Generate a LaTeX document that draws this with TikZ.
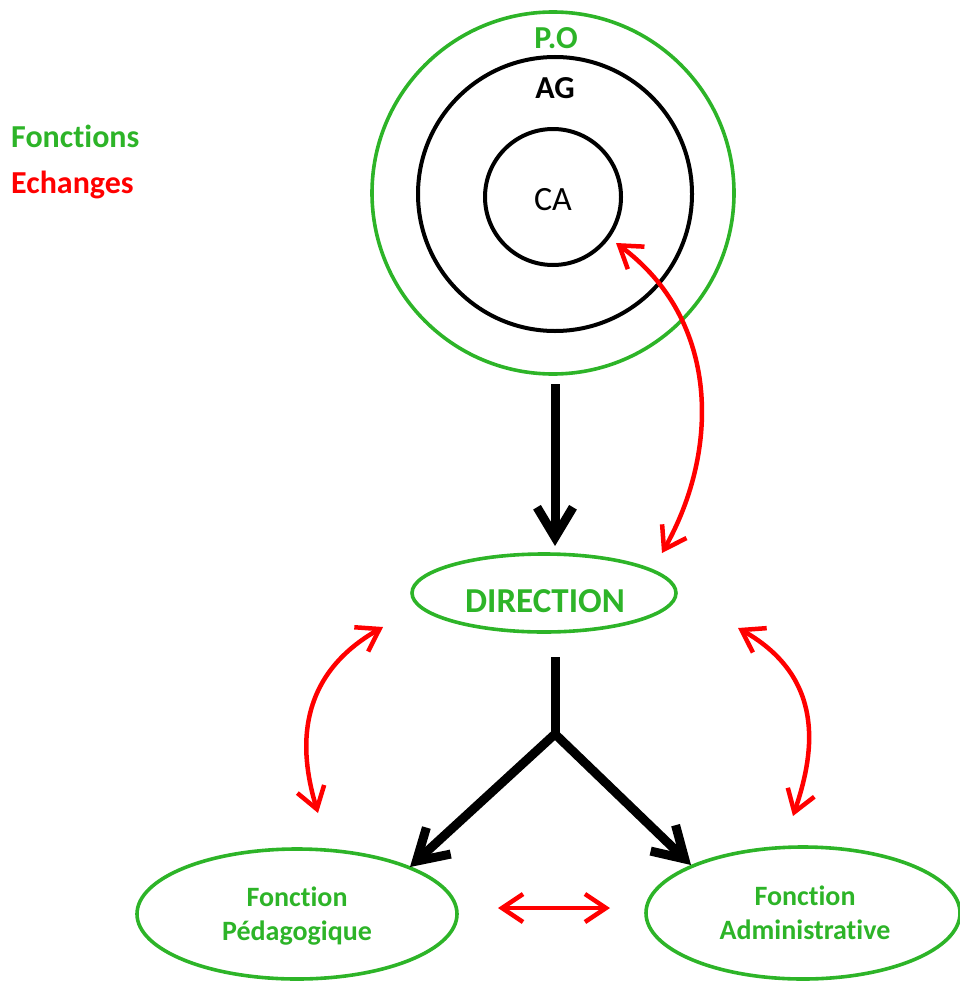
\documentclass[tikz,border=0pt]{standalone}
\usepackage{fontspec}
\setmainfont{Carlito}[Ligatures=NoCommon]
\usetikzlibrary{arrows.meta,shapes.geometric}
\definecolor{fgreen}{RGB}{45,180,40}
\definecolor{fred}{RGB}{255,0,0}
\begin{document}
\begin{tikzpicture}[x=1pt,y=-1pt,
  ring/.style={circle, draw, line width=4pt, inner sep=0pt},
  oval/.style={ellipse, draw=fgreen, line width=3.6pt, inner sep=0pt},
  fn/.style={font=\fontsize{28}{34}\selectfont\bfseries, text=fgreen, align=center},
  big/.style={font=\fontsize{32}{38}\selectfont\bfseries},
  flow/.style={line width=9pt, -{Straight Barb[length=30pt,width=36pt]}},
  exch/.style={draw=fred, line width=4.5pt, {Straight Barb[length=21pt,width=28pt]}-{Straight Barb[length=21pt,width=28pt]}}]
\useasboundingbox (0,0) rectangle (959,982);
% legend
\node[big, text=fgreen, anchor=west, inner sep=0pt] (leg1) at (11,136) {Fonctions};
\node[big, text=fred, anchor=west, inner sep=0pt] (leg2) at (11,185) {Echanges};
% rings
\node[ring, draw=fgreen, line width=3.6pt, minimum size=362pt] (po) at (553,193) {};
\node[ring, draw=black, minimum size=274pt] (ag) at (555,194) {};
\node[ring, draw=black, minimum size=136pt] (ca) at (553,197) {};
\node[big, text=fgreen] (polab) at (556,38) {P.O};
\node[big, text=black] (aglab) at (555,88) {AG};
\node[font=\fontsize{34}{40}\selectfont] (calab) at (553,200) {CA};
% direction
\node[oval, minimum width=264pt, minimum height=78pt] (dir) at (544,593) {};
\node[font=\fontsize{35}{40}\selectfont\bfseries, text=fgreen] (dirlab) at (545,601) {DIRECTION};
% functions
\node[oval, minimum width=320pt, minimum height=130pt] (ped) at (297,914) {};
\node[oval, minimum width=314pt, minimum height=132pt] (adm) at (803,913) {};
\node[fn] (pedlab) at (297,916) {Fonction\\Pédagogique};
\node[fn] (admlab) at (805,913) {Fonction\\Administrative};
% black flow
\coordinate (f1s) at (555,384);
\coordinate (f1e) at (555,546);
\draw[flow] (f1s) -- (f1e);
\coordinate (f2s) at (555,657);
\coordinate (junc) at (555,734);
\coordinate (lt) at (410,867);
\coordinate (rt) at (691,865);
\draw[line width=9pt] (f2s) -- (junc);
\draw[flow, line join=round] (junc) -- (lt);
\draw[flow, line join=round] (junc) -- (rt);
% red exchanges
\coordinate (e1a) at (662,553);
\coordinate (e1b) at (616,243);
\draw[exch] (e1a) .. controls (720,450) and (720,320) .. (e1b);
\coordinate (e2a) at (383,627);
\coordinate (e2b) at (318,813);
\draw[exch] (e2a) .. controls (290,680) and (302,760) .. (e2b);
\coordinate (e3a) at (738,628);
\coordinate (e3b) at (793,816);
\draw[exch] (e3a) .. controls (830,680) and (812,760) .. (e3b);
\coordinate (e4a) at (498,908);
\coordinate (e4b) at (610,908);
\draw[exch] (e4a) -- (e4b);
\end{tikzpicture}
\end{document}
